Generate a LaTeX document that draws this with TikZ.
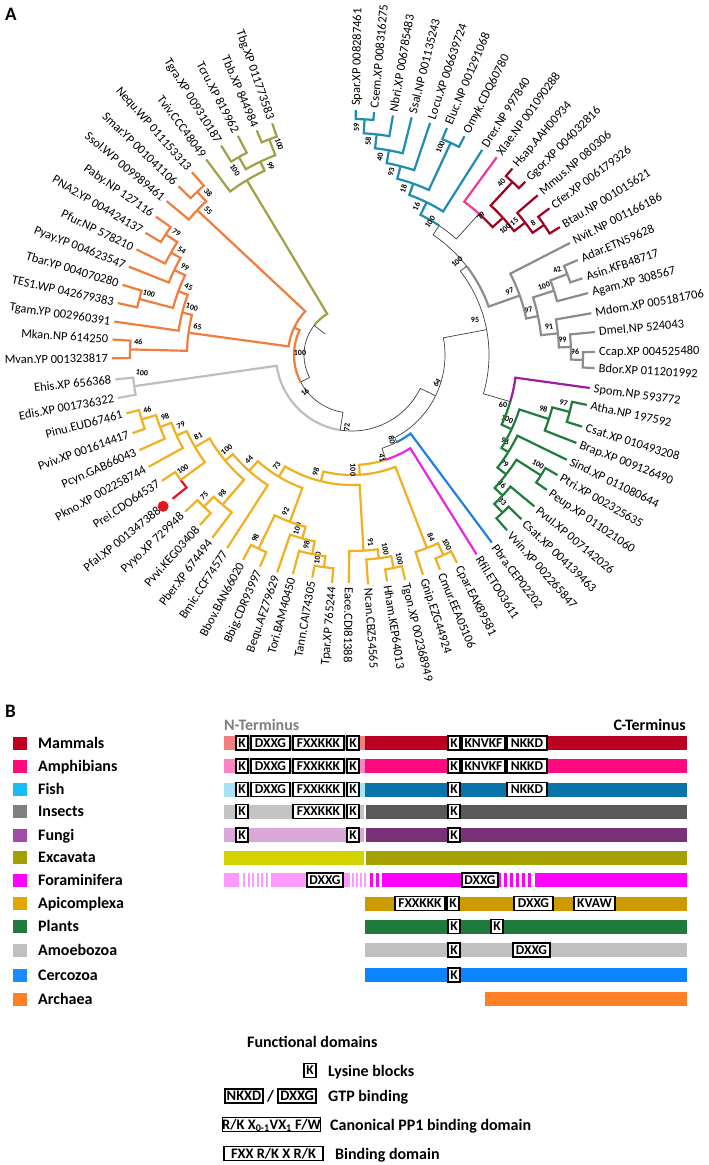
\documentclass[tikz,border=0pt]{standalone}
\usepackage{fontspec}
\setmainfont{Carlito}
\definecolor{fishc}{HTML}{1E8CB4}
\definecolor{xlac}{HTML}{EE3A96}
\definecolor{mamc}{HTML}{A0001E}
\definecolor{insc}{HTML}{8C8C8C}
\definecolor{spoc}{HTML}{9A1EA0}
\definecolor{plac}{HTML}{1E7D3C}
\definecolor{pbrc}{HTML}{2080E6}
\definecolor{rfic}{HTML}{E628E6}
\definecolor{apic}{HTML}{F0B020}
\definecolor{pfac}{HTML}{E6141E}
\definecolor{amoc}{HTML}{BEBEBE}
\definecolor{arcc}{HTML}{F07D3C}
\definecolor{exc}{HTML}{A0A046}
\definecolor{mamL}{HTML}{C00021}\definecolor{mamN}{HTML}{F28080}\definecolor{mamC}{HTML}{B8001F}
\definecolor{ampL}{HTML}{FF0A78}\definecolor{ampN}{HTML}{FF85C2}\definecolor{ampC}{HTML}{FF0A7E}
\definecolor{fisL}{HTML}{16BDF4}\definecolor{fisN}{HTML}{A6E3F8}\definecolor{fisC}{HTML}{0A73A8}
\definecolor{insL}{HTML}{808080}\definecolor{insN}{HTML}{C4C4C4}\definecolor{insC}{HTML}{595959}
\definecolor{funL}{HTML}{A34CA6}\definecolor{funN}{HTML}{DAA8D8}\definecolor{funC}{HTML}{7A3179}
\definecolor{excL}{HTML}{A29F00}\definecolor{excN}{HTML}{D4D200}\definecolor{excC}{HTML}{A3A000}
\definecolor{forL}{HTML}{FF00FF}\definecolor{forN}{HTML}{FF99FF}
\definecolor{apiL}{HTML}{E3A600}\definecolor{apiC}{HTML}{CC9A00}
\definecolor{plaL}{HTML}{1E7B3C}
\definecolor{amoL}{HTML}{C0C0C0}
\definecolor{cerL}{HTML}{1A8CFF}\definecolor{cerC}{HTML}{0A84FF}
\definecolor{arcL}{HTML}{FF8025}
\definecolor{ntc}{HTML}{7F7F7F}
\tikzset{
 Lthin/.style={draw=black!75,line width=0.7pt},
 Lfish/.style={draw=fishc,line width=2.2pt},
 Lxla/.style={draw=xlac,line width=2.2pt},
 Lmam/.style={draw=mamc,line width=2.2pt},
 Lins/.style={draw=insc,line width=2.2pt},
 Lspo/.style={draw=spoc,line width=2.2pt},
 Lpla/.style={draw=plac,line width=2.2pt},
 Lpbr/.style={draw=pbrc,line width=2.2pt},
 Lrfi/.style={draw=rfic,line width=2.2pt},
 Lapi/.style={draw=apic,line width=2.2pt},
 Lpfa/.style={draw=pfac,line width=2.2pt},
 Lamo/.style={draw=amoc,line width=2.2pt},
 Larc/.style={draw=arcc,line width=2.2pt},
 Lexc/.style={draw=exc,line width=2.2pt},
 leaflab/.style={inner sep=0pt,text height=9pt,text depth=1pt,font=\fontsize{12.5}{13}\selectfont},
 boot/.style={inner sep=0pt,font=\bfseries\fontsize{8}{8}\selectfont},
 legtext/.style={inner sep=0pt,anchor=base west,font=\bfseries\fontsize{16}{16}\selectfont},
 dombox/.style={draw=black,line width=1.3pt,fill=white,inner sep=0pt,text height=8.6pt,text depth=0pt,font=\bfseries\fontsize{13.5}{13.5}\selectfont},
 legbox/.style={draw=black,line width=1.3pt,fill=white,inner sep=0pt,text height=9.3pt,text depth=0pt,font=\bfseries\fontsize{14.5}{14.5}\selectfont},
 panlab/.style={inner sep=0pt,anchor=north west,font=\bfseries\fontsize{19}{19}\selectfont}
}
\newcommand\An[1]{\csname a#1\endcsname}
\newcommand\Rn[1]{\csname r#1\endcsname}
\newcommand\lf[5][4]{%
  \expandafter\xdef\csname a#2\endcsname{#3}%
  \expandafter\xdef\csname r#2\endcsname{#4}%
  \pgfmathsetmacro\lfr{#4+#1}%
  \ifdim #3pt<-92pt
    \pgfmathsetmacro\lfrot{#3+180}%
    \node[leaflab,anchor=east,rotate=\lfrot] (#2) at (#3:\lfr) {#5};%
  \else
    \node[leaflab,anchor=west,rotate=#3] (#2) at (#3:\lfr) {#5};%
  \fi}
\newcommand\bootlab[2]{%
  \if\relax\detokenize{#2}\relax\else
    \edef\bma{\An{#1}}\edef\bmr{\Rn{#1}}%
    \pgfmathsetmacro\bmrr{\bmr-8}%
    \ifdim\bma pt<-92pt
      \pgfmathsetmacro\bmm{\bma-450/\bmr}\pgfmathsetmacro\bmrot{\bmm+180}%
    \else
      \pgfmathsetmacro\bmm{\bma+450/\bmr}\pgfmathsetmacro\bmrot{\bmm}%
    \fi
    \node[boot,rotate=\bmrot] (b#1) at (\bmm:\bmrr) {#2};%
  \fi}
\newcommand\jn[7]{%
  \edef\jnA{\An{#3}}\edef\jnB{\An{#4}}%
  \edef\jnRA{\Rn{#3}}\edef\jnRB{\Rn{#4}}%
  \pgfmathsetmacro\jnM{(\jnA+\jnB)/2}%
  \expandafter\xdef\csname a#1\endcsname{\jnM}%
  \expandafter\xdef\csname r#1\endcsname{#2}%
  \draw[#5] (\jnA:\jnRA) -- (\jnA:#2) arc[start angle=\jnA,end angle=\jnM,radius=#2];%
  \draw[#6] (\jnM:#2) arc[start angle=\jnM,end angle=\jnB,radius=#2] -- (\jnB:\jnRB);%
  \bootlab{#1}{#7}}
\newcommand\segx[4]{\fill[#4] (#1,{-#3+7}) rectangle (#2,{-#3-7});}
\newcounter{bxn}
\newcommand\dbox[5][dombox]{%
  \stepcounter{bxn}\edef\bxname{box\arabic{bxn}}%
  \pgfmathsetmacro\dbw{#3-#2}\pgfmathsetmacro\dbx{(#2+#3)/2}%
  \node[#1,minimum width=\dbw pt,minimum height=14pt] (\bxname) at (\dbx,-#4) {#5};}
\newcommand\legitem[4]{\fill[#2] (13,{-#1+6.5}) rectangle (27,{-#1-6.5});
  \node[legtext] (#4) at (38,{-#1-5.2}) {#3};}
\begin{document}
\begin{tikzpicture}[x=1pt,y=1pt]
\useasboundingbox (0,0) rectangle (709,-1165);
\fill[white] (0,0) rectangle (709,-1165);
\node[panlab] (pA) at (5,-8) {A};
\node[panlab] (pB) at (5,-705) {B};
\begin{scope}[shift={(352,-355)}]
% leaves
\lf{Spar}{89.1}{245}{Spar.XP 008287461}
\lf{Csem}{84.8}{244}{Csem.XP 008316275}
\lf{Nbri}{80.3}{243}{Nbri.XP 006785483}
\lf{Ssal}{75.9}{245}{Ssal.NP 001135243}
\lf{Locu}{71.4}{245}{Locu.XP 006639724}
\lf{Eluc}{67.3}{246}{Eluc.NP 001291068}
\lf{Omyk}{62.8}{246}{Omyk.CDQ60780}
\lf{Drer}{57.6}{243}{Drer.NP 997840}
\lf{Xlae}{53.8}{245}{Xlae.NP 001090288}
\lf{Hsap}{49.3}{246}{Hsap.AAH00934}
\lf{Ggor}{45}{245}{Ggor.XP 004032816}
\lf{Mmus}{40.7}{245}{Mmus.NP 080306}
\lf{Cfer}{36.6}{246}{Cfer.XP 006179326}
\lf{Btau}{31.6}{244}{Btau.NP 001015621}
\lf{Nvit}{27.2}{245}{Nvit.NP 001166186}
\lf{Adar}{22.8}{245}{Adar.ETN59628}
\lf{Asin}{18.4}{243}{Asin.KFB48717}
\lf{Agam}{14.7}{244}{Agam.XP 308567}
\lf{Mdom}{9.9}{243}{Mdom.XP 005181706}
\lf{Dmel}{5.4}{244}{Dmel.NP 524043}
\lf{Ccap}{0.7}{243}{Ccap.XP 004525480}
\lf{Bdor}{-3.1}{243}{Bdor.XP 011201992}
\lf{Spom}{-7.9}{240}{Spom.NP 593772}
\lf{Atha}{-12}{240}{Atha.NP 197592}
\lf{CsatA}{-17.3}{241}{Csat.XP 010493208}
\lf{Brap}{-21.4}{241}{Brap.XP 009126490}
\lf{Sind}{-26}{239}{Sind.XP 011080644}
\lf{Ptri}{-30.3}{238}{Ptri.XP 002325635}
\lf{Peup}{-34.7}{237}{Peup.XP 011021060}
\lf{Pvul}{-39.7}{237}{Pvul.XP 007142026}
\lf{CsatB}{-44.1}{236}{Csat.XP 004139463}
\lf{Vvin}{-48.5}{234}{Vvin.XP 002265847}
\lf{Pbra}{-53.3}{234}{Pbra.CEP02202}
\lf{Rfil}{-58}{235}{Rfil.ETO03611}
\lf{Cpar}{-63.2}{233}{Cpar.EAK89581}
\lf{Cmur}{-67.7}{232}{Cmur.EEA05106}
\lf{Gnip}{-72.1}{231}{Gnip.EZG44924}
\lf{Tgon}{-76.7}{231}{Tgon.XP 002368949}
\lf{Hham}{-81.2}{229}{Hham.KEP64013}
\lf{Ncan}{-86}{230}{Ncan.CBZ54565}
\lf{Eace}{-90.8}{228}{Eace.CDI81388}
\lf{Tpar}{-95}{229}{Tpar.XP 765244}
\lf{Tann}{-100.1}{226}{Tann.CAI74305}
\lf{Tori}{-105.1}{227}{Tori.BAM40450}
\lf{Bequ}{-109}{230}{Bequ.AFZ79629}
\lf{Bbig}{-113.5}{231}{Bbig.CDR93997}
\lf{Bbov}{-118}{232}{Bbov.BAN66020}
\lf{Bmic}{-122.9}{230}{Bmic.CCF74577}
\lf{Pber}{-127.4}{230}{Pber.XP 674494}
\lf{Pvvi}{-131.8}{228}{Pvvi.KEG03408}
\lf{Pyyo}{-136.8}{229}{Pyyo.XP 729948}
\lf[17]{Pfal}{-141.3}{230}{Pfal.XP 001347388}
\lf{Prei}{-146.5}{228}{Prei.CDO64537}
\lf{Pkno}{-151.2}{232}{Pkno.XP 002258744}
\lf{Pcyn}{-155.9}{233}{Pcyn.GAB66043}
\lf{Pviv}{-160.4}{233}{Pviv.XP 001614417}
\lf{Pinu}{-165.5}{233}{Pinu.EUD67461}
\lf{Edis}{-169.6}{238}{Edis.XP 001736322}
\lf{Ehis}{-174.1}{238}{Ehis.XP 656368}
\lf{Mvan}{-179.2}{240}{Mvan.YP 001323817}
\lf{Mkan}{-183.7}{240}{Mkan.NP 614250}
\lf{Tgam}{-188}{240}{Tgam.YP 002960391}
\lf{TESa}{-192.5}{240}{TES1.WP 042679383}
\lf{Tbar}{-197}{240}{Tbar.YP 004070280}
\lf{Pyay}{-201.6}{240}{Pyay.YP 004623547}
\lf{Pfur}{-206.1}{240}{Pfur.NP 578210}
\lf{PNAb}{-210.6}{240}{PNA2.YP 004424137}
\lf{Paby}{-215.2}{240}{Paby.NP 127116}
\lf{Ssol}{-219.7}{241}{Ssol.WP 009989461}
\lf{Smar}{-224.2}{242}{Smar.YP 001041106}
\lf{Nequ}{-228.8}{243}{Nequ.WP 011153313}
\lf{Tviv}{-233.3}{244}{Tviv.CCC48049}
\lf{Tgra}{-238}{247}{Tgra.XP 009310187}
\lf{Tcru}{-242.5}{247}{Tcru.XP 819962}
\lf{Tbb}{-247}{244}{Tbb.XP 844984}
\lf{Tbg}{-251}{245}{Tbg.XP 011773583}
% fish
\jn{nSC}{236}{Spar}{Csem}{Lfish}{Lfish}{59}
\jn{nN}{222}{nSC}{Nbri}{Lfish}{Lfish}{58}
\jn{nSs}{208}{nN}{Ssal}{Lfish}{Lfish}{40}
\jn{nLo}{195}{nSs}{Locu}{Lfish}{Lfish}{93}
\jn{nEO}{234}{Eluc}{Omyk}{Lfish}{Lfish}{100}
\jn{nFe}{182}{nLo}{nEO}{Lfish}{Lfish}{18}
\jn{nFi}{170}{nFe}{Drer}{Lfish}{Lfish}{16}
% tetrapods
\jn{nHG}{236}{Hsap}{Ggor}{Lmam}{Lmam}{40}
\jn{nCB}{232}{Cfer}{Btau}{Lmam}{Lmam}{8}
\jn{nMC}{218}{Mmus}{nCB}{Lmam}{Lmam}{15}
\jn{nMa}{204}{nHG}{nMC}{Lmam}{Lmam}{}
\jn{nTe}{190}{Xlae}{nMa}{Lxla}{Lmam}{}
\jn{nVe}{156}{nFi}{nTe}{Lfish}{Lthin}{}
% insects
\jn{nAA}{230}{Adar}{Asin}{Lins}{Lins}{42}
\jn{nAg}{212}{nAA}{Agam}{Lins}{Lins}{100}
\jn{nCc}{231}{Ccap}{Bdor}{Lins}{Lins}{96}
\jn{nDm}{219}{Dmel}{nCc}{Lins}{Lins}{99}
\jn{nMd}{207}{Mdom}{nDm}{Lins}{Lins}{91}
\jn{nDi}{190}{nAg}{nMd}{Lins}{Lins}{97}
\jn{nIn}{178}{Nvit}{nDi}{Lins}{Lins}{97}
\jn{nVI}{145}{nVe}{nIn}{Lthin}{Lins}{}
% plants
\jn{nAC}{225}{Atha}{CsatA}{Lpla}{Lpla}{97}
\jn{nBr}{207}{nAC}{Brap}{Lpla}{Lpla}{98}
\jn{nPP}{224}{Ptri}{Peup}{Lpla}{Lpla}{100}
\jn{nCV}{218}{CsatB}{Vvin}{Lpla}{Lpla}{33}
\jn{nPv}{206}{Pvul}{nCV}{Lpla}{Lpla}{46}
\jn{nPs}{195}{nPP}{nPv}{Lpla}{Lpla}{79}
\jn{nSi}{184}{Sind}{nPs}{Lpla}{Lpla}{96}
\jn{nPl}{176}{nBr}{nSi}{Lpla}{Lpla}{100}
\jn{nSP}{165}{Spom}{nPl}{Lspo}{Lpla}{}
\jn{nNF}{137}{nVI}{nSP}{Lthin}{Lthin}{}
% apicomplexa
\jn{nCr}{220}{Cpar}{Cmur}{Lapi}{Lapi}{100}
\jn{nGr}{207}{nCr}{Gnip}{Lapi}{Lapi}{84}
\jn{nTH}{217}{Tgon}{Hham}{Lapi}{Lapi}{100}
\jn{nNc}{205}{nTH}{Ncan}{Lapi}{Lapi}{100}
\jn{nCo}{196}{nNc}{Eace}{Lapi}{Lapi}{91}
\jn{nTT}{214}{Tpar}{Tann}{Lapi}{Lapi}{100}
\jn{nTo}{203}{nTT}{Tori}{Lapi}{Lapi}{98}
\jn{nBe}{190}{nTo}{Bequ}{Lapi}{Lapi}{100}
\jn{nBb}{215}{Bbig}{Bbov}{Lapi}{Lapi}{98}
\jn{nPi}{178}{nBe}{nBb}{Lapi}{Lapi}{92}
\jn{nPy}{212}{Pvvi}{Pyyo}{Lapi}{Lapi}{75}
\jn{nRo}{198}{Pber}{nPy}{Lapi}{Lapi}{98}
\jn{nRe}{212}{Pfal}{Prei}{Lpfa}{Lapi}{100}
\jn{nVi}{220}{Pviv}{Pinu}{Lapi}{Lapi}{46}
\jn{nCy}{205}{Pcyn}{nVi}{Lapi}{Lapi}{98}
\jn{nKn}{193}{Pkno}{nCy}{Lapi}{Lapi}{79}
\jn{nLa}{182}{nRe}{nKn}{Lapi}{Lapi}{81}
\jn{nPm}{165}{nRo}{nLa}{Lapi}{Lapi}{100}
\jn{nMi}{155}{Bmic}{nPm}{Lapi}{Lapi}{44}
\jn{nPB}{142}{nPi}{nMi}{Lapi}{Lapi}{73}
\jn{nCP}{130}{nCo}{nPB}{Lapi}{Lapi}{98}
\jn{nAp}{120}{nGr}{nCP}{Lapi}{Lapi}{}
\jn{nRA}{110}{Rfil}{nAp}{Lrfi}{Lapi}{}
\jn{nCe}{98}{Pbra}{nRA}{Lpbr}{Lthin}{}
\jn{nSF}{93}{nCe}{nNF}{Lthin}{Lthin}{}
% amoebozoa
\jn{nAm}{220}{Edis}{Ehis}{Lamo}{Lamo}{}
\jn{nSS}{76}{nAm}{nSF}{Lamo}{Lthin}{}
% archaea
\jn{nSN}{225}{Smar}{Nequ}{Larc}{Larc}{38}
\jn{nCren}{212}{Ssol}{nSN}{Larc}{Larc}{55}
\jn{nPa}{222}{Paby}{PNAb}{Larc}{Larc}{79}
\jn{nPf}{208}{nPa}{Pfur}{Larc}{Larc}{54}
\jn{nPyr}{197}{nPf}{Pyay}{Larc}{Larc}{99}
\jn{nTB}{220}{Tbar}{TESa}{Larc}{Larc}{100}
\jn{nTh}{185}{nPyr}{nTB}{Larc}{Larc}{45}
\jn{nTgm}{175}{nTh}{Tgam}{Larc}{Larc}{100}
\jn{nMe}{222}{Mkan}{Mvan}{Larc}{Larc}{46}
\jn{nEu}{165}{nTgm}{nMe}{Larc}{Larc}{65}
\jn{nAr}{64}{nCren}{nEu}{Larc}{Larc}{}
\jn{nSx}{58}{nAr}{nSS}{Larc}{Lthin}{}
% excavata
\jn{nTbb}{231}{Tbb}{Tbg}{Lexc}{Lexc}{100}
\jn{nTgc}{228}{Tgra}{Tcru}{Lexc}{Lexc}{}
\jn{nTry}{214}{nTgc}{nTbb}{Lexc}{Lexc}{99}
\jn{nEx}{204}{Tviv}{nTry}{Lexc}{Lexc}{}
% root
\draw[Lexc] (\An{nEx}:\Rn{nEx}) -- (\An{nEx}:48) arc[start angle=\An{nEx},end angle=-218,radius=48];
\draw[Lthin] (-218:48) arc[start angle=-218,end angle=\An{nSx},radius=48] -- (\An{nSx}:\Rn{nSx});
\draw[Lthin] (-218:34) -- (-218:48);
% P. falciparum marker
\fill[pfac] (\An{Pfal}:242) circle (5.5);
\end{scope}
% backbone support values
\node[boot] (bAr) at (300,-353) {100};
\node[boot,rotate=40] (b16) at (305,-392) {16};
\node[boot,rotate=88] (b72) at (347,-427) {72};
\node[boot,rotate=55] (b64) at (437,-383) {64};
\node[boot] (b95) at (475,-320) {95};
\node[boot,rotate=40] (bVI) at (457,-262) {100};
\node[boot,rotate=55] (bV) at (430,-222) {100};
\node[boot,rotate=60] (b79) at (481,-216) {79};
\node[boot,rotate=40] (bMa) at (505,-229) {100};
\node[boot] (b60) at (503,-405) {60};
\node[boot,rotate=-78] (b80) at (392,-440) {80};
\node[boot,rotate=-78] (b41) at (382,-458) {41};
\node[boot,rotate=-90] (bAp) at (353,-470) {100};
\node[boot,rotate=-8] (bAm) at (142,-373) {100};
\node[boot,rotate=-57] (bEx) at (235,-170) {100};
% ===== Panel B =====
\node[inner sep=0pt,anchor=base west,text=ntc,font=\bfseries\fontsize{16}{16}\selectfont] (nterm) at (224,-730) {N-Terminus};
\node[inner sep=0pt,anchor=base east,font=\bfseries\fontsize{16}{16}\selectfont] (cterm) at (686,-730) {C-Terminus};
\legitem{743}{mamL}{Mammals}{lg1}
\legitem{766}{ampL}{Amphibians}{lg2}
\legitem{789.5}{fisL}{Fish}{lg3}
\legitem{811.5}{insL}{Insects}{lg4}
\legitem{835}{funL}{Fungi}{lg5}
\legitem{857.5}{excL}{Excavata}{lg6}
\legitem{880}{forL}{Foraminifera}{lg7}
\legitem{903.5}{apiL}{Apicomplexa}{lg8}
\legitem{926.5}{plaL}{Plants}{lg9}
\legitem{950}{amoL}{Amoebozoa}{lg10}
\legitem{975}{cerL}{Cercozoa}{lg11}
\legitem{999}{arcL}{Archaea}{lg12}
% mammals
\segx{224}{365}{743}{mamN}\segx{365}{687}{743}{mamC}
\dbox{236}{248}{743}{K}\dbox{251}{290}{743}{DXXG}\dbox{293}{344}{743}{FXXKKK}\dbox{347}{359}{743}{K}
\dbox{448}{460}{743}{K}\dbox{462}{505}{743}{KNVKF}\dbox{507}{547}{743}{NKKD}
% amphibians
\segx{224}{365}{766}{ampN}\segx{365}{687}{766}{ampC}
\dbox{236}{248}{766}{K}\dbox{251}{290}{766}{DXXG}\dbox{293}{344}{766}{FXXKKK}\dbox{347}{359}{766}{K}
\dbox{448}{460}{766}{K}\dbox{462}{505}{766}{KNVKF}\dbox{507}{547}{766}{NKKD}
% fish
\segx{224}{365}{789.5}{fisN}\segx{365}{687}{789.5}{fisC}
\dbox{236}{248}{789.5}{K}\dbox{251}{290}{789.5}{DXXG}\dbox{293}{344}{789.5}{FXXKKK}\dbox{347}{359}{789.5}{K}
\dbox{448}{460}{789.5}{K}\dbox{507}{547}{789.5}{NKKD}
% insects
\segx{224}{363.5}{811.5}{insN}\segx{365.5}{687}{811.5}{insC}
\dbox{236}{248}{811.5}{K}\dbox{293}{344}{811.5}{FXXKKK}\dbox{347}{359}{811.5}{K}
\dbox{448}{460}{811.5}{K}
% fungi
\segx{224}{363.5}{835}{funN}\segx{365.5}{687}{835}{funC}
\dbox{236}{248}{835}{K}\dbox{347}{359}{835}{K}\dbox{448}{460}{835}{K}
% excavata
\segx{224}{364}{857.5}{excN}\segx{366}{687}{857.5}{excC}
% foraminifera
\segx{224}{239}{880}{forN}
\foreach \sx in {243,247.5,252,256.5,261,265.5}{\fill[forN] (\sx,-873) rectangle ({\sx+2.3},-887);}
\segx{271}{350}{880}{forN}
\foreach \sx in {351.5,355.5,359.5,363.5}{\fill[forN] (\sx,-873) rectangle ({\sx+2},-887);}
\foreach \sx in {370,376}{\fill[forL] (\sx,-873) rectangle ({\sx+3},-887);}
\segx{382}{501}{880}{forL}
\foreach \sx in {504,510,516,522,528}{\fill[forL] (\sx,-873) rectangle ({\sx+2.5},-887);}
\segx{535}{687}{880}{forL}
\dbox{307}{343}{880}{DXXG}\dbox{462}{498}{880}{DXXG}
% apicomplexa
\segx{365}{687}{903.5}{apiC}
\dbox{395}{445}{903.5}{FXXKKK}\dbox{447}{459}{903.5}{K}\dbox{514}{553}{903.5}{DXXG}\dbox{574}{615}{903.5}{KVAW}
% plants
\segx{365}{687}{926.5}{plaL}
\dbox{448}{460}{926.5}{K}\dbox{491}{503}{926.5}{K}
% amoebozoa
\segx{365}{687}{950}{amoL}
\dbox{448}{460}{950}{K}\dbox{513}{550}{950}{DXXG}
% cercozoa
\segx{365}{687}{975}{cerC}
\dbox{448}{460}{975}{K}
% archaea
\segx{485}{687}{999}{arcL}
% functional domains legend
\node[legtext] (fdt) at (247,-1047) {Functional domains};
\dbox{304}{316}{1070.5}{K}
\node[legtext] (fd1) at (328,-1076) {Lysine blocks};
\dbox[legbox]{225}{263}{1096}{NKXD}
\node[inner sep=0pt,font=\bfseries\fontsize{16}{16}\selectfont] (fdsl) at (270.5,-1096) {/};
\dbox[legbox]{278}{316}{1096}{DXXG}
\node[legtext] (fd2) at (328,-1101.5) {GTP binding};
\dbox[legbox]{224}{319}{1124.5}{R/K X\textsubscript{0-1}VX\textsubscript{1} F/W}
\node[legtext] (fd3) at (330,-1130) {Canonical PP1 binding domain};
\dbox[legbox]{224}{323}{1153.5}{FXX R/K X R/K}
\node[legtext] (fd4) at (335,-1159) {Binding domain};
\end{tikzpicture}
\end{document}
